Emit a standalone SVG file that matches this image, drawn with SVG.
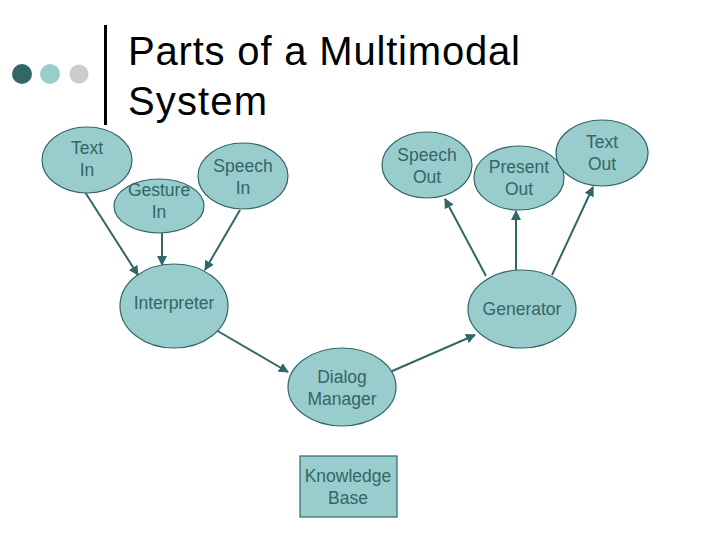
<svg xmlns="http://www.w3.org/2000/svg" width="720" height="540" viewBox="0 0 720 540">
<defs>
<style>
.n{fill:#99CCCC;stroke:#336666;stroke-width:1.2}
.t{font-family:"Liberation Sans",Arial,sans-serif;font-size:17.5px;fill:#336666;text-anchor:middle}
.e{stroke:#336666;stroke-width:2;fill:none;marker-end:url(#a)}
.title{font-family:"Liberation Sans",Arial,sans-serif;font-size:40px;fill:#000}
</style>
<marker id="a" viewBox="0 0 10 10" refX="9" refY="5" markerWidth="5" markerHeight="5" orient="auto" markerUnits="strokeWidth">
<path d="M0,0 L10,5 L0,10 z" fill="#336666"/>
</marker>
</defs>
<rect width="720" height="540" fill="#fff"/>
<g id="header">
<circle cx="22" cy="74" r="10" fill="#336666"/>
<circle cx="50" cy="74" r="10" fill="#99CCCC"/>
<circle cx="79" cy="74" r="9.5" fill="#CCCCCC"/>
<rect x="104" y="25" width="3" height="100" fill="#000"/>
<text class="title" x="128" y="65" textLength="392" lengthAdjust="spacing">Parts of a Multimodal</text>
<text class="title" x="128" y="115" textLength="139" lengthAdjust="spacing">System</text>
</g>
<g id="connectors">
<line class="e" x1="85" y1="192" x2="138" y2="275"/>
<line class="e" x1="162" y1="233" x2="162" y2="265"/>
<line class="e" x1="240" y1="210" x2="205" y2="270"/>
<line class="e" x1="216" y1="330" x2="288" y2="372"/>
<line class="e" x1="390" y1="372" x2="475" y2="335"/>
<line class="e" x1="486" y1="276" x2="445" y2="199"/>
<line class="e" x1="516" y1="270" x2="516" y2="211"/>
<line class="e" x1="552" y1="275" x2="593" y2="187"/>
</g>
<g id="text-in"><ellipse class="n" cx="87" cy="160" rx="45" ry="33"/><text class="t" x="87" y="154">Text</text><text class="t" x="87" y="176">In</text></g>
<g id="speech-in"><ellipse class="n" cx="243" cy="176" rx="45" ry="33"/><text class="t" x="243" y="172">Speech</text><text class="t" x="243" y="194">In</text></g>
<g id="gesture-in"><ellipse class="n" cx="159" cy="206" rx="45" ry="27"/><text class="t" x="159" y="196">Gesture</text><text class="t" x="159" y="218">In</text></g>
<g id="interpreter"><ellipse class="n" cx="174" cy="306" rx="54" ry="42"/><text class="t" x="174" y="309">Interpreter</text></g>
<g id="dialog-manager"><ellipse class="n" cx="342" cy="387" rx="54" ry="39"/><text class="t" x="342" y="383">Dialog</text><text class="t" x="342" y="405">Manager</text></g>
<g id="knowledge-base"><rect class="n" x="300" y="456" width="97" height="61"/><text class="t" x="348" y="482">Knowledge</text><text class="t" x="348" y="504">Base</text></g>
<g id="generator"><ellipse class="n" cx="522" cy="309" rx="54" ry="39"/><text class="t" x="522" y="315">Generator</text></g>
<g id="speech-out"><ellipse class="n" cx="427" cy="165" rx="45" ry="33"/><text class="t" x="427" y="161">Speech</text><text class="t" x="427" y="183">Out</text></g>
<g id="present-out"><ellipse class="n" cx="519" cy="178" rx="45" ry="32"/><text class="t" x="519" y="173">Present</text><text class="t" x="519" y="195">Out</text></g>
<g id="text-out"><ellipse class="n" cx="602" cy="153" rx="46" ry="33"/><text class="t" x="602" y="148">Text</text><text class="t" x="602" y="170">Out</text></g>
</svg>
